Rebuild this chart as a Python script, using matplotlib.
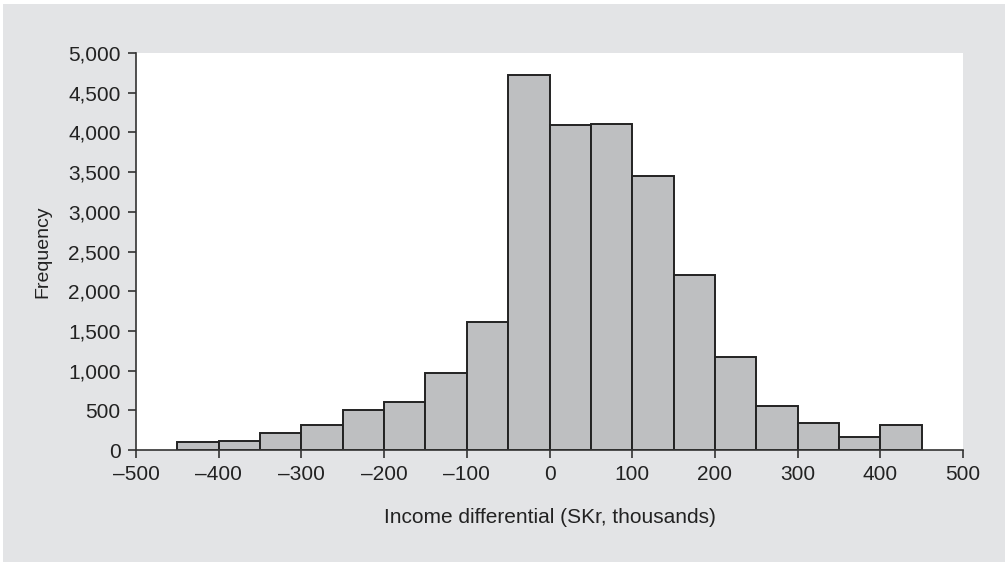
import matplotlib
matplotlib.use("Agg")
import matplotlib.pyplot as plt
from matplotlib.patches import Rectangle
from matplotlib.ticker import FuncFormatter

bin_edges = [-450, -400, -350, -300, -250, -200, -150, -100, -50, 0,
             50, 100, 150, 200, 250, 300, 350, 400, 450]
frequencies = [100, 113, 210, 315, 508, 600, 966, 1612, 4719, 4089,
               4102, 3447, 2200, 1167, 550, 344, 168, 311]
x_ticks = [-500, -400, -300, -200, -100, 0, 100, 200, 300, 400, 500]
y_ticks = [0, 500, 1000, 1500, 2000, 2500, 3000, 3500, 4000, 4500, 5000]
x_label = "Income differential (SKr, thousands)"
y_label = "Frequency"

plt.rcParams['font.family'] = ['Liberation Sans', 'DejaVu Sans']

W, H = 1005, 562
fig = plt.figure(figsize=(W / 100, H / 100), dpi=100, facecolor='white')
fig.patches.append(Rectangle((3 / W, 0), 1 - 3 / W, 1 - 4 / H, transform=fig.transFigure,
                             facecolor='#e3e4e6', edgecolor='none', zorder=-10))

ax = fig.add_axes([136 / W, 1 - 450 / H, (963 - 136) / W, (450 - 53) / H])
ax.set_zorder(1)
ax.set_facecolor('white')

widths = [bin_edges[i + 1] - bin_edges[i] for i in range(len(frequencies))]
ax.bar(bin_edges[:-1], frequencies, width=widths, align='edge',
       color='#bebfc1', edgecolor='#222222', linewidth=1.4, zorder=2)

ax.set_xlim(-500, 500)
ax.set_ylim(0, 5000)
ax.set_xticks(x_ticks)
ax.set_yticks(y_ticks)

def fmt_x(v, pos):
    v = int(round(v))
    return ("\u2013" + str(-v)) if v < 0 else str(v)

def fmt_y(v, pos):
    return f"{int(round(v)):,}"

ax.xaxis.set_major_formatter(FuncFormatter(fmt_x))
ax.yaxis.set_major_formatter(FuncFormatter(fmt_y))

for s in ['top', 'right']:
    ax.spines[s].set_visible(False)
for s in ['left', 'bottom']:
    ax.spines[s].set_color('#333333')
    ax.spines[s].set_linewidth(1.2)
    ax.spines[s].set_zorder(3)

ax.tick_params(axis='y', direction='out', length=6, width=1.2, color='#333333',
               labelsize=15, labelcolor='#222222', pad=5)
ax.tick_params(axis='x', direction='out', length=6, width=1.2, color='#333333',
               labelsize=15, labelcolor='#222222', pad=5)

ax.set_xlabel(x_label, fontsize=15, color='#222222', labelpad=17)
ax.set_ylabel(y_label, fontsize=14, color='#222222', labelpad=12)

fig.savefig("out.png", dpi=100, facecolor=fig.get_facecolor())
